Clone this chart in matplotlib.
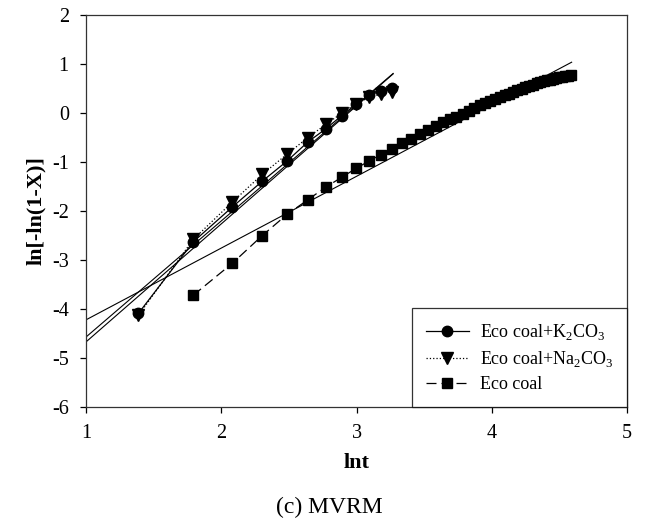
import numpy as np
import matplotlib.pyplot as plt

plt.rcParams['font.family'] = ['Liberation Serif', 'DejaVu Serif']
plt.rcParams['mathtext.fontset'] = 'custom'
plt.rcParams['mathtext.rm'] = 'Liberation Serif'
plt.rcParams['axes.unicode_minus'] = False

# sampling times (min) -> lnt
t_salt = [4, 6, 8, 10, 12, 14, 16, 18, 20, 22, 24, 26]
t_eco = list(range(6, 100, 2))

# ln[-ln(1-X)]
y_k2co3 = [-4.09, -2.63, -1.92, -1.39, -0.98, -0.59, -0.32, -0.05, 0.18, 0.36, 0.45, 0.51]
y_na2co3 = [-4.13, -2.58, -1.82, -1.25, -0.84, -0.50, -0.23, 0.00, 0.19, 0.32, 0.39, 0.44]
y_eco = [-3.72, -3.07, -2.50, -2.07, -1.77, -1.51, -1.31, -1.13, -0.98, -0.85,
         -0.73, -0.62, -0.52, -0.43, -0.34, -0.26, -0.19, -0.13, -0.07, -0.01,
         0.05, 0.11, 0.16, 0.21, 0.25, 0.29, 0.33, 0.37, 0.40, 0.44,
         0.47, 0.50, 0.53, 0.56, 0.58, 0.61, 0.63, 0.65, 0.67, 0.68,
         0.70, 0.71, 0.73, 0.74, 0.75, 0.76, 0.77]

# linear fits: (slope, intercept, x_start, x_end)
fit_k2co3 = (2.41, -7.08, 1.0, 3.27)
fit_na2co3 = (2.37, -6.94, 1.0, 3.27)
fit_eco = (1.465, -5.685, 1.0, 4.59)

x_salt = np.log(t_salt)
x_eco = np.log(t_eco)

fig = plt.figure(figsize=(6.58, 5.23), dpi=100)
ax = fig.add_axes([0.131, 0.222, 0.822, 0.749])

ax.plot(x_salt, y_k2co3, color='black', linestyle='-', linewidth=0.9,
        marker='o', markersize=7.5, label='Eco coal+K$_2$CO$_3$')
ax.plot(x_salt, y_na2co3, color='black', linestyle=':', linewidth=0.9,
        marker='v', markersize=8, label='Eco coal+Na$_2$CO$_3$')
ax.plot(x_eco, y_eco, color='black', linestyle=(0, (8, 4)), linewidth=0.9,
        marker='s', markersize=6.5, label='Eco coal')

for k, b, x0, x1 in [fit_k2co3, fit_na2co3, fit_eco]:
    xs = np.array([x0, x1])
    ax.plot(xs, k * xs + b, color='black', linewidth=0.8)

ax.set_xlim(1, 5)
ax.set_ylim(-6, 2)
ax.set_xticks([1, 2, 3, 4, 5])
ax.set_yticks([-6, -5, -4, -3, -2, -1, 0, 1, 2])
ax.tick_params(direction='out', length=4.5, width=0.9, labelsize=14.5,
               pad=8, top=False, right=False)
for s in ax.spines.values():
    s.set_linewidth(0.9)
    s.set_color('#333333')

ax.set_xlabel('lnt', fontsize=16, fontweight='bold', labelpad=7)
ax.set_ylabel('ln[-ln(1-X)]', fontsize=16, fontweight='bold', labelpad=4)

leg = ax.legend(loc='lower right', fontsize=13, frameon=True, fancybox=False,
                edgecolor='black', borderaxespad=0, handlelength=2.4,
                handletextpad=0.6, borderpad=0.75, labelspacing=0.4)
leg.get_frame().set_linewidth(0.9)

fig.text(0.5, 0.02, '(c) MVRM', ha='center', fontsize=17)

fig.savefig('out.png', dpi=100)
